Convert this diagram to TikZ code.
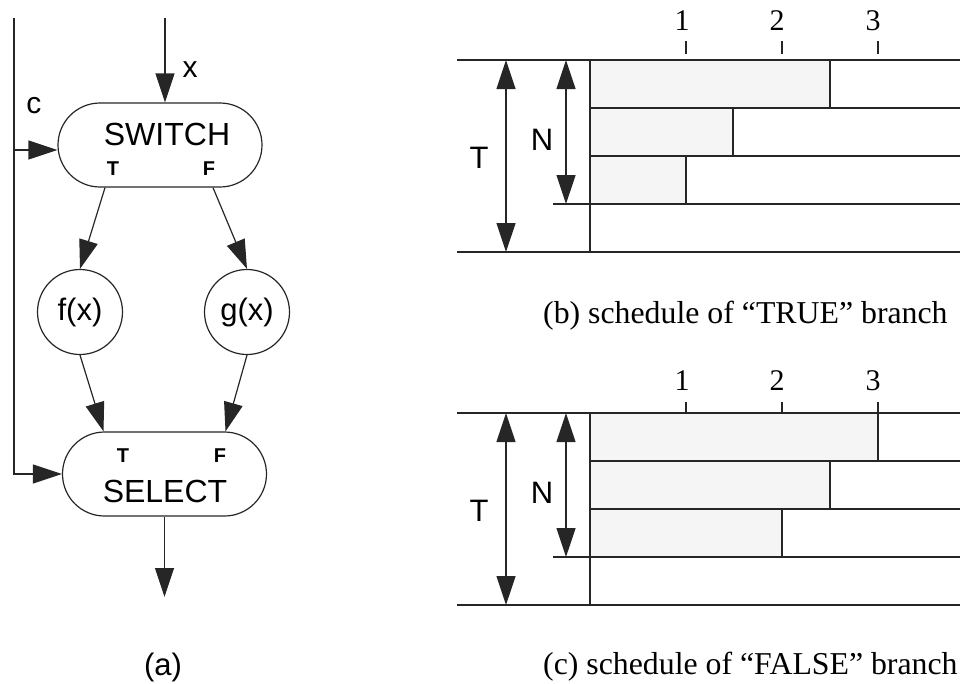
\documentclass[tikz,border=0pt]{standalone}
\usepackage{fontspec}
\setmainfont{Liberation Serif}
\newfontfamily\arialf{Liberation Sans}
\usetikzlibrary{arrows.meta,calc}
% #1 y0, #2 e1, #3 e2, #4 e3, #5 tick top, #6 tick bottom, #7 digit baseline, #8 prefix
\newcommand\schedchart[8]{%
  \draw[bar] (590,#1) rectangle (#2,{#1+48});
  \draw[bar] (590,{#1+48}) rectangle (#3,{#1+96});
  \draw[bar] (590,{#1+96}) rectangle (#4,{#1+144});
  \draw[ln] (457,#1) -- (960,#1);
  \draw[ln] (590,{#1+48}) -- (960,{#1+48});
  \draw[ln] (590,{#1+96}) -- (960,{#1+96});
  \draw[ln] (553,{#1+144}) -- (960,{#1+144});
  \draw[ln] (457,{#1+192}) -- (960,{#1+192});
  \draw[ln] (590,#1) -- (590,{#1+192});
  \draw[ln] (686,#5) -- (686,#6);
  \draw[ln] (782,#5) -- (782,#6);
  \draw[ln] (878,#5) -- (878,#6);
  \node[dig] (#8d1) at (682,#7) {1};
  \node[dig] (#8d2) at (777,#7) {2};
  \node[dig] (#8d3) at (873,#7) {3};
  \coordinate (#8Ttop) at (506,#1);
  \coordinate (#8Tbot) at (506,{#1+192});
  \coordinate (#8Ntop) at (566,#1);
  \coordinate (#8Nbot) at (566,{#1+144});
  \draw[darr] (#8Ttop) -- (#8Tbot);
  \draw[darr] (#8Ntop) -- (#8Nbot);
  \node[midtxt] (#8T) at (479,{#1+108}) {T};
  \node[midtxt] (#8N) at (542,{#1+90}) {N};
}
\begin{document}
\begin{tikzpicture}[x=1pt,y=-1pt,
  ln/.style={line width=1.2pt, draw=black!85},
  arr/.style={ln, -{Triangle[length=29pt,width=19pt]}},
  darr/.style={ln, {Triangle[length=29pt,width=19pt]}-{Triangle[length=29pt,width=19pt]}},
  pill/.style={ln, rectangle, rounded corners=42pt, minimum width=204pt, minimum height=84pt, inner sep=0pt},
  fn/.style={ln, circle, minimum size=85pt, inner sep=0pt, font=\arialf\fontsize{31}{34}\selectfont},
  big/.style={font=\arialf\fontsize{32}{36}\selectfont, inner sep=0pt, anchor=base},
  midtxt/.style={font=\arialf\fontsize{31}{34}\selectfont, inner sep=0pt, anchor=base},
  lab/.style={font=\arialf\fontsize{30}{33}\selectfont, inner sep=0pt, anchor=base},
  tf/.style={font=\arialf\bfseries\fontsize{20}{24}\selectfont, inner sep=0pt, anchor=base},
  captxt/.style={font=\fontsize{31.8}{36}\selectfont, inner sep=0pt, anchor=base west},
  dig/.style={font=\fontsize{30}{34}\selectfont, inner sep=0pt, anchor=base},
  bar/.style={ln, fill=black!4},
]
\useasboundingbox (0,0) rectangle (964,683);

% ---------- (a) dataflow ----------
\node[pill] (sw) at (160,145) {};
\node[big] (swtxt) at (167,145) {SWITCH};
\node[tf] (swT) at (113,175) {T};
\node[tf] (swF) at (209,175) {F};

\node[fn] (fx) at (80,312) {f(x)};
\node[fn] (gx) at (247,312) {g(x)};

\node[pill] (sel) at (164.5,474) {};
\node[big] (seltxt) at (165,502) {SELECT};
\node[tf] (selT) at (123,462) {T};
\node[tf] (selF) at (220,462) {F};

\coordinate (xin) at (165,18);
\draw[arr] (xin) -- ($(sw.north)+(5,0)$);
\node[lab] (xl) at (190,77) {x};

\coordinate (ctop) at (14,18);
\coordinate (cmid) at (14,150);
\draw[arr] (ctop) |- (sel.west);
\draw[arr] (cmid) -- (sw.west |- cmid);
\node[lab] (cl) at (34,113) {c};

\draw[arr] ($(sw.south)+(-55,0)$) -- (fx.north);
\draw[arr] ($(sw.south)+(53,0)$) -- (gx.north);
\draw[arr] (fx.south) -- ($(sel.north)+(-61,0)$);
\draw[arr] (gx.south) -- ($(sel.north)+(61,0)$);
\coordinate (out) at (164.5,597);
\draw[arr] (sel.south) -- (out);

\node[font=\arialf\fontsize{31}{34}\selectfont, inner sep=0pt, anchor=base] (capa) at (163,675) {(a)};

% ---------- (b) and (c) schedules ----------
\schedchart{60}{830}{733}{686}{41}{54}{30}{b}
\node[captxt] (capb) at (543,323) {(b) schedule of “TRUE” branch};

\schedchart{413}{878}{830}{782}{402}{413}{390}{c}
\node[captxt] (capc) at (543,674) {(c) schedule of “FALSE” branch};
\end{tikzpicture}
\end{document}
